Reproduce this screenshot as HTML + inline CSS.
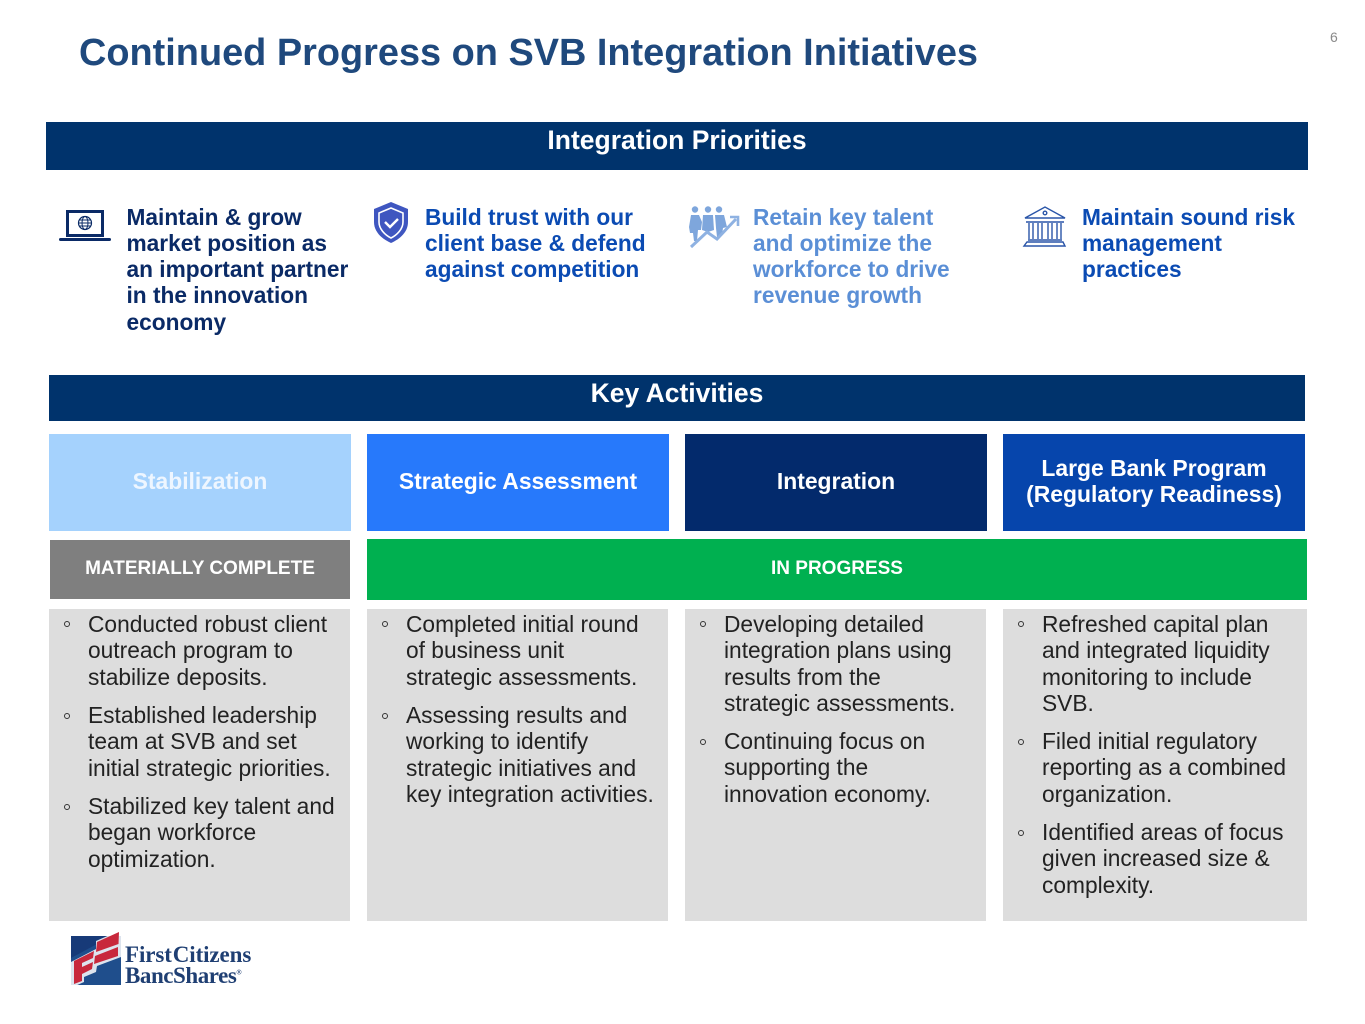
<!DOCTYPE html>
<html><head><meta charset="utf-8">
<style>
html,body{margin:0;padding:0;background:#fff}
#p{position:relative;width:1365px;height:1024px;overflow:hidden;font-family:"Liberation Sans",sans-serif;background:#fff}
.b{position:absolute}
.t{position:absolute;white-space:nowrap;line-height:26.25px}
.c{position:absolute;display:flex;align-items:center;justify-content:center;text-align:center;color:#fff;font-weight:bold;box-sizing:border-box}
.k{font-size:22.9px;line-height:26px;padding-bottom:4px}
.s{font-size:19px;padding-bottom:2px}
.h{font-size:22.7px;font-weight:bold;line-height:26.25px}
.l{font-size:22.75px;color:#222;line-height:26.25px}
.d{position:absolute;width:4px;height:4px;border:1px solid #333;border-radius:50%}
svg{position:absolute;overflow:visible}
</style></head><body><div id="p">
<div class="t" style="left:79px;top:32px;font-size:37.9px;font-weight:bold;color:#1f497d;line-height:42px">Continued Progress on SVB Integration Initiatives</div>
<div class="t" style="left:1330px;top:29px;font-size:14px;color:#8a8a8a;line-height:16px">6</div>

<div class="c" style="left:46px;top:122px;width:1262px;height:48px;background:#00336c;font-size:26.5px;padding-bottom:11px">Integration Priorities</div>

<div class="t h" style="left:126.5px;top:203.7px;color:#0a2a66">Maintain &amp; grow<br>market position as<br>an important partner<br>in the innovation<br>economy</div>
<div class="t h" style="left:425px;top:203.7px;color:#0b4bb3">Build trust with our<br>client base &amp; defend<br>against competition</div>
<div class="t h" style="left:753px;top:203.7px;color:#5b8fd6">Retain key talent<br>and optimize the<br>workforce to drive<br>revenue growth</div>
<div class="t h" style="left:1082px;top:203.7px;color:#0b4bb3">Maintain sound risk<br>management<br>practices</div>

<svg style="left:0;top:0" width="1365" height="1024">
<!-- laptop -->
<rect x="67.5" y="211.500" width="35" height="24" fill="none" stroke="#0a2a66" stroke-width="3"/>
<rect x="59" y="238" width="52" height="3" rx="1.5" fill="#0a2a66"/>
<circle cx="85" cy="223" r="6.5" fill="none" stroke="#0a2a66" stroke-width="1.2"/>
<ellipse cx="85" cy="223" rx="3" ry="6.5" fill="none" stroke="#0a2a66" stroke-width="1"/>
<path d="M78.5 223H91.5M79.5 220H90.5M79.5 226H90.5" stroke="#0a2a66" stroke-width="1"/>
<!-- shield -->
<path d="M391 202L408 209V222C408 232 400 239 391 243C382 239 374 232 374 222V209Z" fill="#3f56c0"/>
<path d="M391 208L403 213V222C403 229 397 235 391 238C385 235 379 229 379 222V213Z" fill="none" stroke="#fff" stroke-width="1.6"/>
<path d="M385 222L390 227L398 219" fill="none" stroke="#fff" stroke-width="2.4"/>
<!-- people -->
<g fill="#7ea6dc">
<circle cx="695" cy="209.5" r="3.2"/><path d="M691 215H699L702 222L701 230H698L697 241H694L693 233H690L689 227Z"/>
<circle cx="708" cy="209.5" r="3.2"/><path d="M703 215H713L714 230L708 232L702 230Z"/>
<circle cx="719" cy="209.5" r="3.2"/><path d="M715 215H724L727 227L723 228L722 235L717 237L716 228Z"/>
</g>
<path d="M691 247L707 232L717 239L736 219" fill="none" stroke="#8fb2e2" stroke-width="3"/>
<path d="M730 217L738 217L738 226" fill="none" stroke="#8fb2e2" stroke-width="2.6"/>
<!-- bank -->
<g fill="none" stroke="#2a55a8" stroke-width="1.4">
<path d="M1025 218L1045 207L1065 218Z"/>
<circle cx="1045" cy="213" r="1.8"/>
<path d="M1026 222H1064M1028 240H1062"/>
<path d="M1027 242H1063L1065 246H1024Z"/>
<path d="M1029 223V239M1033 223V239M1038 223V239M1042 223V239M1048 223V239M1052 223V239M1057 223V239M1061 223V239"/>
</g>
</svg>

<div class="c" style="left:49px;top:375px;width:1256px;height:46px;background:#00336c;font-size:26.5px;padding-bottom:10px">Key Activities</div>

<div class="c k" style="left:49px;top:434px;width:302px;height:97px;background:#a5d2fd;color:#eef6ff">Stabilization</div>
<div class="c k" style="left:367px;top:434px;width:302px;height:97px;background:#2779fb">Strategic Assessment</div>
<div class="c k" style="left:685px;top:434px;width:302px;height:97px;background:#032a6c">Integration</div>
<div class="c k" style="left:1003px;top:434px;width:302px;height:97px;background:#0645ac">Large Bank Program<br>(Regulatory Readiness)</div>

<div class="c s" style="left:50px;top:540px;width:300px;height:59px;background:#7f7f7f">MATERIALLY COMPLETE</div>
<div class="c s" style="left:367px;top:539px;width:940px;height:61px;background:#00b050">IN PROGRESS</div>

<div class="b" style="left:49px;top:609px;width:301px;height:312px;background:#dddddd"></div>
<div class="b" style="left:367px;top:609px;width:301px;height:312px;background:#dddddd"></div>
<div class="b" style="left:685px;top:609px;width:301px;height:312px;background:#dddddd"></div>
<div class="b" style="left:1003px;top:609px;width:304px;height:312px;background:#dddddd"></div>

<div class="t l" style="left:88px;top:611px">Conducted robust client<br>outreach program to<br>stabilize deposits.</div>
<div class="t l" style="left:88px;top:702px">Established leadership<br>team at SVB and set<br>initial strategic priorities.</div>
<div class="t l" style="left:88px;top:793px">Stabilized key talent and<br>began workforce<br>optimization.</div>
<div class="d" style="left:64px;top:621px"></div><div class="d" style="left:64px;top:713px"></div><div class="d" style="left:64px;top:804px"></div>

<div class="t l" style="left:406px;top:611px">Completed initial round<br>of business unit<br>strategic assessments.</div>
<div class="t l" style="left:406px;top:702px">Assessing results and<br>working to identify<br>strategic initiatives and<br>key integration activities.</div>
<div class="d" style="left:382px;top:621px"></div><div class="d" style="left:382px;top:713px"></div>

<div class="t l" style="left:724px;top:611px">Developing detailed<br>integration plans using<br>results from the<br>strategic assessments.</div>
<div class="t l" style="left:724px;top:728px">Continuing focus on<br>supporting the<br>innovation economy.</div>
<div class="d" style="left:700px;top:621px"></div><div class="d" style="left:700px;top:739px"></div>

<div class="t l" style="left:1042px;top:611px">Refreshed capital plan<br>and integrated liquidity<br>monitoring to include<br>SVB.</div>
<div class="t l" style="left:1042px;top:728px">Filed initial regulatory<br>reporting as a combined<br>organization.</div>
<div class="t l" style="left:1042px;top:819px">Identified areas of focus<br>given increased size &amp;<br>complexity.</div>
<div class="d" style="left:1018px;top:621px"></div><div class="d" style="left:1018px;top:739px"></div><div class="d" style="left:1018px;top:830px"></div>

<svg style="left:0;top:0" width="1365" height="1024">
<rect x="71" y="936" width="50" height="49" fill="#1f4e8c"/>
<path d="M71 936H112L71 958Z" fill="#173a78"/>
<path d="M71 962L96 949V941L121 930V957L97 966L96 972L84 977V982L75 986H71Z" fill="#fff" opacity=".85"/>
<path d="M74 961L94 951L93 958L82 963V967L93 962L92 969L82 974V981L74 984Z" fill="#c8283c"/>
<path d="M97 942L119 932L118.500 944L96 952Z" fill="#c8283c"/>
<path d="M95 956L118 947L118 956L94 964Z" fill="#c8283c"/>
</svg>
<div class="t" style="left:125px;top:945px;font-family:'Liberation Serif',serif;font-size:23px;font-weight:bold;color:#1f3f73;line-height:20.5px;letter-spacing:-.1px">First<span style="margin-left:1px">Citizens</span><br><span style="letter-spacing:-.45px">BancShares</span><sup style="font-size:7px;line-height:0">®</sup></div>
</div></body></html>
